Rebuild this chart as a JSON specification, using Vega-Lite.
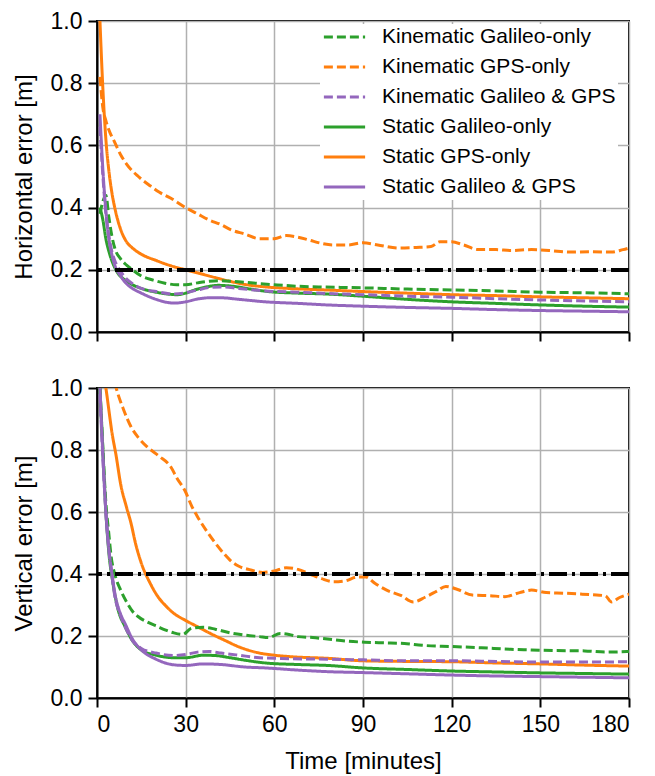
{
  "$schema": "https://vega.github.io/schema/vega-lite/v6.json",
  "padding": {"left": 11, "top": 9, "right": 5, "bottom": 2},
  "background": "white",
  "config": {
    "font": "Liberation Sans",
    "view": {"stroke": "black", "strokeWidth": 2},
    "axis": {"domainColor": "black", "domainWidth": 2, "tickColor": "black", "tickWidth": 2, "tickSize": 9, "labelFontSize": 23, "labelColor": "black", "labelPadding": 6, "titleFontSize": 24, "titleFontWeight": "normal", "titleColor": "black", "gridColor": "#b0b0b0", "gridWidth": 1.5},
    "legend": {"orient": "none", "legendX": 223, "legendY": 3, "fillColor": "white", "padding": 2, "labelFontSize": 21, "labelColor": "black", "symbolType": "stroke", "symbolSize": 1700, "symbolStrokeWidth": 3, "labelOffset": 15, "rowPadding": 8, "clipHeight": 22, "labelLimit": 400}
  },
  "datasets": {
    "h": [
      {"series": "Static GPS-only", "t": 1, "v": 1.0},
      {"series": "Static GPS-only", "t": 2, "v": 0.78},
      {"series": "Static GPS-only", "t": 3, "v": 0.62},
      {"series": "Static GPS-only", "t": 4, "v": 0.52},
      {"series": "Static GPS-only", "t": 5, "v": 0.45},
      {"series": "Static GPS-only", "t": 6, "v": 0.4},
      {"series": "Static GPS-only", "t": 8, "v": 0.33},
      {"series": "Static GPS-only", "t": 10, "v": 0.29},
      {"series": "Static GPS-only", "t": 12, "v": 0.27},
      {"series": "Static GPS-only", "t": 15, "v": 0.25},
      {"series": "Static GPS-only", "t": 20, "v": 0.23},
      {"series": "Static GPS-only", "t": 26, "v": 0.21},
      {"series": "Static GPS-only", "t": 30, "v": 0.2},
      {"series": "Static GPS-only", "t": 34, "v": 0.19},
      {"series": "Static GPS-only", "t": 40, "v": 0.175},
      {"series": "Static GPS-only", "t": 45, "v": 0.163},
      {"series": "Static GPS-only", "t": 50, "v": 0.153},
      {"series": "Static GPS-only", "t": 57, "v": 0.145},
      {"series": "Static GPS-only", "t": 65, "v": 0.14},
      {"series": "Static GPS-only", "t": 78, "v": 0.135},
      {"series": "Static GPS-only", "t": 90, "v": 0.13},
      {"series": "Static GPS-only", "t": 105, "v": 0.125},
      {"series": "Static GPS-only", "t": 120, "v": 0.12},
      {"series": "Static GPS-only", "t": 135, "v": 0.117},
      {"series": "Static GPS-only", "t": 150, "v": 0.113},
      {"series": "Static GPS-only", "t": 165, "v": 0.11},
      {"series": "Static GPS-only", "t": 180, "v": 0.107},

      {"series": "Kinematic GPS-only", "t": 1, "v": 0.82},
      {"series": "Kinematic GPS-only", "t": 2, "v": 0.72},
      {"series": "Kinematic GPS-only", "t": 3, "v": 0.68},
      {"series": "Kinematic GPS-only", "t": 4, "v": 0.65},
      {"series": "Kinematic GPS-only", "t": 6, "v": 0.61},
      {"series": "Kinematic GPS-only", "t": 8, "v": 0.57},
      {"series": "Kinematic GPS-only", "t": 10, "v": 0.54},
      {"series": "Kinematic GPS-only", "t": 14, "v": 0.5},
      {"series": "Kinematic GPS-only", "t": 18, "v": 0.47},
      {"series": "Kinematic GPS-only", "t": 21, "v": 0.45},
      {"series": "Kinematic GPS-only", "t": 25, "v": 0.43},
      {"series": "Kinematic GPS-only", "t": 30, "v": 0.4},
      {"series": "Kinematic GPS-only", "t": 34, "v": 0.38},
      {"series": "Kinematic GPS-only", "t": 38, "v": 0.36},
      {"series": "Kinematic GPS-only", "t": 42, "v": 0.345},
      {"series": "Kinematic GPS-only", "t": 45, "v": 0.33},
      {"series": "Kinematic GPS-only", "t": 50, "v": 0.315},
      {"series": "Kinematic GPS-only", "t": 55, "v": 0.3},
      {"series": "Kinematic GPS-only", "t": 60, "v": 0.3},
      {"series": "Kinematic GPS-only", "t": 64, "v": 0.31},
      {"series": "Kinematic GPS-only", "t": 68, "v": 0.305},
      {"series": "Kinematic GPS-only", "t": 72, "v": 0.295},
      {"series": "Kinematic GPS-only", "t": 76, "v": 0.285},
      {"series": "Kinematic GPS-only", "t": 80, "v": 0.28},
      {"series": "Kinematic GPS-only", "t": 85, "v": 0.28},
      {"series": "Kinematic GPS-only", "t": 90, "v": 0.287},
      {"series": "Kinematic GPS-only", "t": 95, "v": 0.28},
      {"series": "Kinematic GPS-only", "t": 102, "v": 0.27},
      {"series": "Kinematic GPS-only", "t": 108, "v": 0.272},
      {"series": "Kinematic GPS-only", "t": 113, "v": 0.275},
      {"series": "Kinematic GPS-only", "t": 116, "v": 0.29},
      {"series": "Kinematic GPS-only", "t": 120, "v": 0.29},
      {"series": "Kinematic GPS-only", "t": 124, "v": 0.28},
      {"series": "Kinematic GPS-only", "t": 129, "v": 0.265},
      {"series": "Kinematic GPS-only", "t": 135, "v": 0.265},
      {"series": "Kinematic GPS-only", "t": 140, "v": 0.262},
      {"series": "Kinematic GPS-only", "t": 147, "v": 0.265},
      {"series": "Kinematic GPS-only", "t": 153, "v": 0.262},
      {"series": "Kinematic GPS-only", "t": 160, "v": 0.257},
      {"series": "Kinematic GPS-only", "t": 167, "v": 0.258},
      {"series": "Kinematic GPS-only", "t": 174, "v": 0.257},
      {"series": "Kinematic GPS-only", "t": 178, "v": 0.265},
      {"series": "Kinematic GPS-only", "t": 180, "v": 0.27},

      {"series": "Kinematic Galileo-only", "t": 1, "v": 0.38},
      {"series": "Kinematic Galileo-only", "t": 2, "v": 0.42},
      {"series": "Kinematic Galileo-only", "t": 3, "v": 0.44},
      {"series": "Kinematic Galileo-only", "t": 4, "v": 0.37},
      {"series": "Kinematic Galileo-only", "t": 5, "v": 0.31},
      {"series": "Kinematic Galileo-only", "t": 6, "v": 0.27},
      {"series": "Kinematic Galileo-only", "t": 8, "v": 0.235},
      {"series": "Kinematic Galileo-only", "t": 10, "v": 0.215},
      {"series": "Kinematic Galileo-only", "t": 12, "v": 0.2},
      {"series": "Kinematic Galileo-only", "t": 15, "v": 0.18},
      {"series": "Kinematic Galileo-only", "t": 19, "v": 0.167},
      {"series": "Kinematic Galileo-only", "t": 23, "v": 0.157},
      {"series": "Kinematic Galileo-only", "t": 27, "v": 0.152},
      {"series": "Kinematic Galileo-only", "t": 30, "v": 0.152},
      {"series": "Kinematic Galileo-only", "t": 34, "v": 0.158},
      {"series": "Kinematic Galileo-only", "t": 38, "v": 0.163},
      {"series": "Kinematic Galileo-only", "t": 42, "v": 0.165},
      {"series": "Kinematic Galileo-only", "t": 46, "v": 0.163},
      {"series": "Kinematic Galileo-only", "t": 52, "v": 0.158},
      {"series": "Kinematic Galileo-only", "t": 60, "v": 0.152},
      {"series": "Kinematic Galileo-only", "t": 68, "v": 0.147},
      {"series": "Kinematic Galileo-only", "t": 75, "v": 0.145},
      {"series": "Kinematic Galileo-only", "t": 90, "v": 0.142},
      {"series": "Kinematic Galileo-only", "t": 105, "v": 0.138},
      {"series": "Kinematic Galileo-only", "t": 120, "v": 0.135},
      {"series": "Kinematic Galileo-only", "t": 135, "v": 0.132},
      {"series": "Kinematic Galileo-only", "t": 150, "v": 0.128},
      {"series": "Kinematic Galileo-only", "t": 165, "v": 0.126},
      {"series": "Kinematic Galileo-only", "t": 180, "v": 0.123},

      {"series": "Static Galileo-only", "t": 1, "v": 0.4},
      {"series": "Static Galileo-only", "t": 2, "v": 0.36},
      {"series": "Static Galileo-only", "t": 3, "v": 0.3},
      {"series": "Static Galileo-only", "t": 4, "v": 0.26},
      {"series": "Static Galileo-only", "t": 5, "v": 0.23},
      {"series": "Static Galileo-only", "t": 7, "v": 0.19},
      {"series": "Static Galileo-only", "t": 9.5, "v": 0.167},
      {"series": "Static Galileo-only", "t": 12, "v": 0.152},
      {"series": "Static Galileo-only", "t": 15, "v": 0.14},
      {"series": "Static Galileo-only", "t": 20, "v": 0.128},
      {"series": "Static Galileo-only", "t": 24, "v": 0.122},
      {"series": "Static Galileo-only", "t": 27, "v": 0.12},
      {"series": "Static Galileo-only", "t": 30, "v": 0.125},
      {"series": "Static Galileo-only", "t": 33, "v": 0.135},
      {"series": "Static Galileo-only", "t": 37, "v": 0.145},
      {"series": "Static Galileo-only", "t": 41, "v": 0.15},
      {"series": "Static Galileo-only", "t": 46, "v": 0.147},
      {"series": "Static Galileo-only", "t": 52, "v": 0.138},
      {"series": "Static Galileo-only", "t": 58, "v": 0.13},
      {"series": "Static Galileo-only", "t": 68, "v": 0.125},
      {"series": "Static Galileo-only", "t": 78, "v": 0.122},
      {"series": "Static Galileo-only", "t": 90, "v": 0.115},
      {"series": "Static Galileo-only", "t": 105, "v": 0.105},
      {"series": "Static Galileo-only", "t": 120, "v": 0.097},
      {"series": "Static Galileo-only", "t": 135, "v": 0.092},
      {"series": "Static Galileo-only", "t": 150, "v": 0.087},
      {"series": "Static Galileo-only", "t": 165, "v": 0.083},
      {"series": "Static Galileo-only", "t": 180, "v": 0.08},

      {"series": "Static Galileo & GPS", "t": 1, "v": 0.7},
      {"series": "Static Galileo & GPS", "t": 2, "v": 0.52},
      {"series": "Static Galileo & GPS", "t": 3, "v": 0.39},
      {"series": "Static Galileo & GPS", "t": 4, "v": 0.3},
      {"series": "Static Galileo & GPS", "t": 5, "v": 0.25},
      {"series": "Static Galileo & GPS", "t": 6, "v": 0.215},
      {"series": "Static Galileo & GPS", "t": 8, "v": 0.18},
      {"series": "Static Galileo & GPS", "t": 10, "v": 0.155},
      {"series": "Static Galileo & GPS", "t": 12, "v": 0.14},
      {"series": "Static Galileo & GPS", "t": 15, "v": 0.125},
      {"series": "Static Galileo & GPS", "t": 20, "v": 0.105},
      {"series": "Static Galileo & GPS", "t": 26, "v": 0.093},
      {"series": "Static Galileo & GPS", "t": 30, "v": 0.097},
      {"series": "Static Galileo & GPS", "t": 34, "v": 0.106},
      {"series": "Static Galileo & GPS", "t": 38, "v": 0.11},
      {"series": "Static Galileo & GPS", "t": 42, "v": 0.11},
      {"series": "Static Galileo & GPS", "t": 48, "v": 0.105},
      {"series": "Static Galileo & GPS", "t": 57, "v": 0.097},
      {"series": "Static Galileo & GPS", "t": 68, "v": 0.092},
      {"series": "Static Galileo & GPS", "t": 78, "v": 0.087},
      {"series": "Static Galileo & GPS", "t": 90, "v": 0.083},
      {"series": "Static Galileo & GPS", "t": 105, "v": 0.079},
      {"series": "Static Galileo & GPS", "t": 120, "v": 0.076},
      {"series": "Static Galileo & GPS", "t": 135, "v": 0.072},
      {"series": "Static Galileo & GPS", "t": 150, "v": 0.069},
      {"series": "Static Galileo & GPS", "t": 165, "v": 0.067},
      {"series": "Static Galileo & GPS", "t": 180, "v": 0.065},

      {"series": "Kinematic Galileo & GPS", "t": 1, "v": 0.66},
      {"series": "Kinematic Galileo & GPS", "t": 2, "v": 0.5},
      {"series": "Kinematic Galileo & GPS", "t": 3, "v": 0.38},
      {"series": "Kinematic Galileo & GPS", "t": 4, "v": 0.31},
      {"series": "Kinematic Galileo & GPS", "t": 5, "v": 0.26},
      {"series": "Kinematic Galileo & GPS", "t": 6, "v": 0.23},
      {"series": "Kinematic Galileo & GPS", "t": 8, "v": 0.195},
      {"series": "Kinematic Galileo & GPS", "t": 10, "v": 0.17},
      {"series": "Kinematic Galileo & GPS", "t": 12, "v": 0.155},
      {"series": "Kinematic Galileo & GPS", "t": 15, "v": 0.14},
      {"series": "Kinematic Galileo & GPS", "t": 20, "v": 0.13},
      {"series": "Kinematic Galileo & GPS", "t": 26, "v": 0.122},
      {"series": "Kinematic Galileo & GPS", "t": 30, "v": 0.126},
      {"series": "Kinematic Galileo & GPS", "t": 34, "v": 0.135},
      {"series": "Kinematic Galileo & GPS", "t": 38, "v": 0.143},
      {"series": "Kinematic Galileo & GPS", "t": 42, "v": 0.145},
      {"series": "Kinematic Galileo & GPS", "t": 48, "v": 0.14},
      {"series": "Kinematic Galileo & GPS", "t": 57, "v": 0.132},
      {"series": "Kinematic Galileo & GPS", "t": 68, "v": 0.128},
      {"series": "Kinematic Galileo & GPS", "t": 80, "v": 0.123},
      {"series": "Kinematic Galileo & GPS", "t": 90, "v": 0.12},
      {"series": "Kinematic Galileo & GPS", "t": 105, "v": 0.115},
      {"series": "Kinematic Galileo & GPS", "t": 120, "v": 0.112},
      {"series": "Kinematic Galileo & GPS", "t": 135, "v": 0.107},
      {"series": "Kinematic Galileo & GPS", "t": 150, "v": 0.103},
      {"series": "Kinematic Galileo & GPS", "t": 165, "v": 0.1},
      {"series": "Kinematic Galileo & GPS", "t": 180, "v": 0.097}
    ],
    "v": [
      {"series": "Kinematic GPS-only", "t": 5, "v": 1.06},
      {"series": "Kinematic GPS-only", "t": 6.5, "v": 1.0},
      {"series": "Kinematic GPS-only", "t": 9, "v": 0.93},
      {"series": "Kinematic GPS-only", "t": 11.5, "v": 0.875},
      {"series": "Kinematic GPS-only", "t": 14, "v": 0.84},
      {"series": "Kinematic GPS-only", "t": 17, "v": 0.81},
      {"series": "Kinematic GPS-only", "t": 21, "v": 0.78},
      {"series": "Kinematic GPS-only", "t": 25, "v": 0.745},
      {"series": "Kinematic GPS-only", "t": 27, "v": 0.71},
      {"series": "Kinematic GPS-only", "t": 29.7, "v": 0.67},
      {"series": "Kinematic GPS-only", "t": 32, "v": 0.62},
      {"series": "Kinematic GPS-only", "t": 34, "v": 0.585},
      {"series": "Kinematic GPS-only", "t": 37, "v": 0.54},
      {"series": "Kinematic GPS-only", "t": 40, "v": 0.5},
      {"series": "Kinematic GPS-only", "t": 43, "v": 0.465},
      {"series": "Kinematic GPS-only", "t": 45, "v": 0.445},
      {"series": "Kinematic GPS-only", "t": 48, "v": 0.425},
      {"series": "Kinematic GPS-only", "t": 52, "v": 0.413},
      {"series": "Kinematic GPS-only", "t": 56, "v": 0.405},
      {"series": "Kinematic GPS-only", "t": 60, "v": 0.41},
      {"series": "Kinematic GPS-only", "t": 64, "v": 0.42},
      {"series": "Kinematic GPS-only", "t": 68, "v": 0.415},
      {"series": "Kinematic GPS-only", "t": 72, "v": 0.4},
      {"series": "Kinematic GPS-only", "t": 76, "v": 0.385},
      {"series": "Kinematic GPS-only", "t": 80, "v": 0.375},
      {"series": "Kinematic GPS-only", "t": 84, "v": 0.378},
      {"series": "Kinematic GPS-only", "t": 88, "v": 0.39},
      {"series": "Kinematic GPS-only", "t": 91, "v": 0.39},
      {"series": "Kinematic GPS-only", "t": 94, "v": 0.37},
      {"series": "Kinematic GPS-only", "t": 98, "v": 0.348},
      {"series": "Kinematic GPS-only", "t": 103, "v": 0.33},
      {"series": "Kinematic GPS-only", "t": 107, "v": 0.31},
      {"series": "Kinematic GPS-only", "t": 111, "v": 0.325},
      {"series": "Kinematic GPS-only", "t": 115, "v": 0.345},
      {"series": "Kinematic GPS-only", "t": 118, "v": 0.36},
      {"series": "Kinematic GPS-only", "t": 122, "v": 0.35},
      {"series": "Kinematic GPS-only", "t": 127, "v": 0.332},
      {"series": "Kinematic GPS-only", "t": 133, "v": 0.33},
      {"series": "Kinematic GPS-only", "t": 138, "v": 0.327},
      {"series": "Kinematic GPS-only", "t": 143, "v": 0.34},
      {"series": "Kinematic GPS-only", "t": 147, "v": 0.348},
      {"series": "Kinematic GPS-only", "t": 152, "v": 0.34},
      {"series": "Kinematic GPS-only", "t": 158, "v": 0.338},
      {"series": "Kinematic GPS-only", "t": 164, "v": 0.335},
      {"series": "Kinematic GPS-only", "t": 169, "v": 0.332},
      {"series": "Kinematic GPS-only", "t": 172, "v": 0.33},
      {"series": "Kinematic GPS-only", "t": 174, "v": 0.31},
      {"series": "Kinematic GPS-only", "t": 177, "v": 0.325},
      {"series": "Kinematic GPS-only", "t": 180, "v": 0.335},

      {"series": "Static GPS-only", "t": 2, "v": 1.05},
      {"series": "Static GPS-only", "t": 3, "v": 1.0},
      {"series": "Static GPS-only", "t": 4, "v": 0.93},
      {"series": "Static GPS-only", "t": 5, "v": 0.86},
      {"series": "Static GPS-only", "t": 6.5, "v": 0.78},
      {"series": "Static GPS-only", "t": 8, "v": 0.69},
      {"series": "Static GPS-only", "t": 10, "v": 0.615},
      {"series": "Static GPS-only", "t": 11.5, "v": 0.564},
      {"series": "Static GPS-only", "t": 13, "v": 0.5},
      {"series": "Static GPS-only", "t": 15, "v": 0.435},
      {"series": "Static GPS-only", "t": 18, "v": 0.37},
      {"series": "Static GPS-only", "t": 20.6, "v": 0.327},
      {"series": "Static GPS-only", "t": 23, "v": 0.3},
      {"series": "Static GPS-only", "t": 26, "v": 0.273},
      {"series": "Static GPS-only", "t": 30, "v": 0.25},
      {"series": "Static GPS-only", "t": 34, "v": 0.23},
      {"series": "Static GPS-only", "t": 38, "v": 0.21},
      {"series": "Static GPS-only", "t": 43, "v": 0.187},
      {"series": "Static GPS-only", "t": 48, "v": 0.165},
      {"series": "Static GPS-only", "t": 54, "v": 0.147},
      {"series": "Static GPS-only", "t": 60, "v": 0.138},
      {"series": "Static GPS-only", "t": 66, "v": 0.133},
      {"series": "Static GPS-only", "t": 78, "v": 0.128},
      {"series": "Static GPS-only", "t": 90, "v": 0.12},
      {"series": "Static GPS-only", "t": 105, "v": 0.118},
      {"series": "Static GPS-only", "t": 120, "v": 0.117},
      {"series": "Static GPS-only", "t": 135, "v": 0.113},
      {"series": "Static GPS-only", "t": 150, "v": 0.11},
      {"series": "Static GPS-only", "t": 165, "v": 0.106},
      {"series": "Static GPS-only", "t": 180, "v": 0.103},

      {"series": "Kinematic Galileo-only", "t": 1, "v": 1.0},
      {"series": "Kinematic Galileo-only", "t": 2, "v": 0.8},
      {"series": "Kinematic Galileo-only", "t": 3, "v": 0.63},
      {"series": "Kinematic Galileo-only", "t": 4, "v": 0.53},
      {"series": "Kinematic Galileo-only", "t": 4.8, "v": 0.455},
      {"series": "Kinematic Galileo-only", "t": 6, "v": 0.4},
      {"series": "Kinematic Galileo-only", "t": 8, "v": 0.348},
      {"series": "Kinematic Galileo-only", "t": 10, "v": 0.31},
      {"series": "Kinematic Galileo-only", "t": 12, "v": 0.28},
      {"series": "Kinematic Galileo-only", "t": 14, "v": 0.262},
      {"series": "Kinematic Galileo-only", "t": 17, "v": 0.245},
      {"series": "Kinematic Galileo-only", "t": 20.6, "v": 0.23},
      {"series": "Kinematic Galileo-only", "t": 23, "v": 0.22},
      {"series": "Kinematic Galileo-only", "t": 26, "v": 0.21},
      {"series": "Kinematic Galileo-only", "t": 29, "v": 0.205},
      {"series": "Kinematic Galileo-only", "t": 32, "v": 0.225},
      {"series": "Kinematic Galileo-only", "t": 36, "v": 0.228},
      {"series": "Kinematic Galileo-only", "t": 40, "v": 0.222},
      {"series": "Kinematic Galileo-only", "t": 45, "v": 0.21},
      {"series": "Kinematic Galileo-only", "t": 50, "v": 0.203},
      {"series": "Kinematic Galileo-only", "t": 55, "v": 0.198},
      {"series": "Kinematic Galileo-only", "t": 58, "v": 0.195},
      {"series": "Kinematic Galileo-only", "t": 62, "v": 0.208},
      {"series": "Kinematic Galileo-only", "t": 65, "v": 0.205},
      {"series": "Kinematic Galileo-only", "t": 68, "v": 0.198},
      {"series": "Kinematic Galileo-only", "t": 73, "v": 0.195},
      {"series": "Kinematic Galileo-only", "t": 78, "v": 0.19},
      {"series": "Kinematic Galileo-only", "t": 85, "v": 0.183},
      {"series": "Kinematic Galileo-only", "t": 90.6, "v": 0.18},
      {"series": "Kinematic Galileo-only", "t": 97, "v": 0.178},
      {"series": "Kinematic Galileo-only", "t": 104, "v": 0.176},
      {"series": "Kinematic Galileo-only", "t": 110, "v": 0.17},
      {"series": "Kinematic Galileo-only", "t": 120, "v": 0.166},
      {"series": "Kinematic Galileo-only", "t": 130, "v": 0.162},
      {"series": "Kinematic Galileo-only", "t": 140, "v": 0.157},
      {"series": "Kinematic Galileo-only", "t": 147, "v": 0.155},
      {"series": "Kinematic Galileo-only", "t": 155, "v": 0.153},
      {"series": "Kinematic Galileo-only", "t": 165, "v": 0.152},
      {"series": "Kinematic Galileo-only", "t": 172, "v": 0.148},
      {"series": "Kinematic Galileo-only", "t": 180, "v": 0.15},

      {"series": "Static Galileo-only", "t": 1, "v": 1.0},
      {"series": "Static Galileo-only", "t": 2, "v": 0.8},
      {"series": "Static Galileo-only", "t": 3, "v": 0.6},
      {"series": "Static Galileo-only", "t": 4, "v": 0.47},
      {"series": "Static Galileo-only", "t": 5.4, "v": 0.37},
      {"series": "Static Galileo-only", "t": 7, "v": 0.29},
      {"series": "Static Galileo-only", "t": 9.5, "v": 0.23},
      {"series": "Static Galileo-only", "t": 12, "v": 0.185},
      {"series": "Static Galileo-only", "t": 15, "v": 0.155},
      {"series": "Static Galileo-only", "t": 20, "v": 0.138},
      {"series": "Static Galileo-only", "t": 26, "v": 0.13},
      {"series": "Static Galileo-only", "t": 30, "v": 0.13},
      {"series": "Static Galileo-only", "t": 36, "v": 0.138},
      {"series": "Static Galileo-only", "t": 40, "v": 0.137},
      {"series": "Static Galileo-only", "t": 45, "v": 0.13},
      {"series": "Static Galileo-only", "t": 50, "v": 0.122},
      {"series": "Static Galileo-only", "t": 57, "v": 0.113},
      {"series": "Static Galileo-only", "t": 68, "v": 0.108},
      {"series": "Static Galileo-only", "t": 78, "v": 0.105},
      {"series": "Static Galileo-only", "t": 90, "v": 0.097},
      {"series": "Static Galileo-only", "t": 105, "v": 0.092},
      {"series": "Static Galileo-only", "t": 120, "v": 0.087},
      {"series": "Static Galileo-only", "t": 135, "v": 0.084},
      {"series": "Static Galileo-only", "t": 150, "v": 0.081},
      {"series": "Static Galileo-only", "t": 165, "v": 0.079},
      {"series": "Static Galileo-only", "t": 180, "v": 0.077},

      {"series": "Static Galileo & GPS", "t": 1, "v": 1.0},
      {"series": "Static Galileo & GPS", "t": 2, "v": 0.78},
      {"series": "Static Galileo & GPS", "t": 3, "v": 0.6},
      {"series": "Static Galileo & GPS", "t": 4, "v": 0.48},
      {"series": "Static Galileo & GPS", "t": 4.8, "v": 0.42},
      {"series": "Static Galileo & GPS", "t": 6, "v": 0.34},
      {"series": "Static Galileo & GPS", "t": 8, "v": 0.27},
      {"series": "Static Galileo & GPS", "t": 9.5, "v": 0.24},
      {"series": "Static Galileo & GPS", "t": 12, "v": 0.19},
      {"series": "Static Galileo & GPS", "t": 15, "v": 0.155},
      {"series": "Static Galileo & GPS", "t": 20, "v": 0.125},
      {"series": "Static Galileo & GPS", "t": 26, "v": 0.107},
      {"series": "Static Galileo & GPS", "t": 30, "v": 0.105},
      {"series": "Static Galileo & GPS", "t": 36, "v": 0.11},
      {"series": "Static Galileo & GPS", "t": 42, "v": 0.108},
      {"series": "Static Galileo & GPS", "t": 50, "v": 0.1},
      {"series": "Static Galileo & GPS", "t": 57, "v": 0.097},
      {"series": "Static Galileo & GPS", "t": 68, "v": 0.09},
      {"series": "Static Galileo & GPS", "t": 78, "v": 0.085},
      {"series": "Static Galileo & GPS", "t": 90, "v": 0.082},
      {"series": "Static Galileo & GPS", "t": 105, "v": 0.078},
      {"series": "Static Galileo & GPS", "t": 120, "v": 0.074},
      {"series": "Static Galileo & GPS", "t": 135, "v": 0.071},
      {"series": "Static Galileo & GPS", "t": 150, "v": 0.069},
      {"series": "Static Galileo & GPS", "t": 165, "v": 0.067},
      {"series": "Static Galileo & GPS", "t": 180, "v": 0.065},

      {"series": "Kinematic Galileo & GPS", "t": 1, "v": 0.98},
      {"series": "Kinematic Galileo & GPS", "t": 2, "v": 0.77},
      {"series": "Kinematic Galileo & GPS", "t": 3, "v": 0.6},
      {"series": "Kinematic Galileo & GPS", "t": 4, "v": 0.48},
      {"series": "Kinematic Galileo & GPS", "t": 5, "v": 0.4},
      {"series": "Kinematic Galileo & GPS", "t": 6, "v": 0.33},
      {"series": "Kinematic Galileo & GPS", "t": 8, "v": 0.265},
      {"series": "Kinematic Galileo & GPS", "t": 10, "v": 0.22},
      {"series": "Kinematic Galileo & GPS", "t": 12, "v": 0.185},
      {"series": "Kinematic Galileo & GPS", "t": 15, "v": 0.16},
      {"series": "Kinematic Galileo & GPS", "t": 20, "v": 0.145},
      {"series": "Kinematic Galileo & GPS", "t": 26, "v": 0.137},
      {"series": "Kinematic Galileo & GPS", "t": 30, "v": 0.14},
      {"series": "Kinematic Galileo & GPS", "t": 34, "v": 0.148},
      {"series": "Kinematic Galileo & GPS", "t": 38, "v": 0.15},
      {"series": "Kinematic Galileo & GPS", "t": 42, "v": 0.145},
      {"series": "Kinematic Galileo & GPS", "t": 48, "v": 0.138},
      {"series": "Kinematic Galileo & GPS", "t": 55, "v": 0.13},
      {"series": "Kinematic Galileo & GPS", "t": 65, "v": 0.127},
      {"series": "Kinematic Galileo & GPS", "t": 78, "v": 0.125},
      {"series": "Kinematic Galileo & GPS", "t": 90, "v": 0.123},
      {"series": "Kinematic Galileo & GPS", "t": 105, "v": 0.12},
      {"series": "Kinematic Galileo & GPS", "t": 120, "v": 0.12},
      {"series": "Kinematic Galileo & GPS", "t": 135, "v": 0.118},
      {"series": "Kinematic Galileo & GPS", "t": 150, "v": 0.116},
      {"series": "Kinematic Galileo & GPS", "t": 165, "v": 0.116},
      {"series": "Kinematic Galileo & GPS", "t": 180, "v": 0.117}
    ]
  },
  "spacing": 56,
  "bounds": "flush",
  "resolve": {"scale": {"color": "independent", "strokeDash": "independent"}, "legend": {"color": "independent", "strokeDash": "independent"}},
  "vconcat": [
    {
      "width": 532,
      "height": 311,
      "data": {"name": "h"},
      "layer": [
        {
          "mark": {"type": "line", "strokeWidth": 3, "clip": true, "interpolate": "monotone"},
          "encoding": {
            "x": {"field": "t", "type": "quantitative", "scale": {"domain": [0, 180], "nice": false}, "axis": {"values": [0, 30, 60, 90, 120, 150, 180], "labels": false, "title": null}},
            "y": {"field": "v", "type": "quantitative", "scale": {"domain": [0, 1], "nice": false}, "axis": {"values": [0, 0.2, 0.4, 0.6, 0.8, 1.0], "format": ".1f", "title": "Horizontal error [m]", "titlePadding": 14}},
            "color": {"field": "series", "type": "nominal", "scale": {"domain": ["Kinematic Galileo-only", "Kinematic GPS-only", "Kinematic Galileo & GPS", "Static Galileo-only", "Static GPS-only", "Static Galileo & GPS"], "range": ["#2ca02c", "#ff7f0e", "#9467bd", "#2ca02c", "#ff7f0e", "#9467bd"]}, "legend": {"title": null, "orient": "none", "legendX": 223, "legendY": 3}},
            "strokeDash": {"field": "series", "type": "nominal", "scale": {"domain": ["Kinematic Galileo-only", "Kinematic GPS-only", "Kinematic Galileo & GPS", "Static Galileo-only", "Static GPS-only", "Static Galileo & GPS"], "range": [[9, 4], [9, 4], [9, 4], [1, 0], [1, 0], [1, 0]]}, "legend": {"title": null, "orient": "none", "legendX": 223, "legendY": 3}}
          }
        },
        {
          "mark": {"type": "rule", "color": "black", "strokeWidth": 3, "strokeDash": [18, 5, 3, 5]},
          "encoding": {"y": {"datum": 0.2}}
        }
      ]
    },
    {
      "width": 532,
      "height": 310,
      "data": {"name": "v"},
      "layer": [
        {
          "mark": {"type": "line", "strokeWidth": 3, "clip": true, "interpolate": "monotone"},
          "encoding": {
            "x": {"field": "t", "type": "quantitative", "scale": {"domain": [0, 180], "nice": false}, "axis": {"values": [0, 30, 60, 90, 120, 150, 180], "title": "Time [minutes]", "titlePadding": 13}},
            "y": {"field": "v", "type": "quantitative", "scale": {"domain": [0, 1], "nice": false}, "axis": {"values": [0, 0.2, 0.4, 0.6, 0.8, 1.0], "format": ".1f", "title": "Vertical error [m]", "titlePadding": 14}},
            "color": {"field": "series", "type": "nominal", "scale": {"domain": ["Kinematic Galileo-only", "Kinematic GPS-only", "Kinematic Galileo & GPS", "Static Galileo-only", "Static GPS-only", "Static Galileo & GPS"], "range": ["#2ca02c", "#ff7f0e", "#9467bd", "#2ca02c", "#ff7f0e", "#9467bd"]}, "legend": null},
            "strokeDash": {"field": "series", "type": "nominal", "scale": {"domain": ["Kinematic Galileo-only", "Kinematic GPS-only", "Kinematic Galileo & GPS", "Static Galileo-only", "Static GPS-only", "Static Galileo & GPS"], "range": [[9, 4], [9, 4], [9, 4], [1, 0], [1, 0], [1, 0]]}, "legend": null}
          }
        },
        {
          "mark": {"type": "rule", "color": "black", "strokeWidth": 3, "strokeDash": [18, 5, 3, 5]},
          "encoding": {"y": {"datum": 0.4}}
        }
      ]
    }
  ]
}
